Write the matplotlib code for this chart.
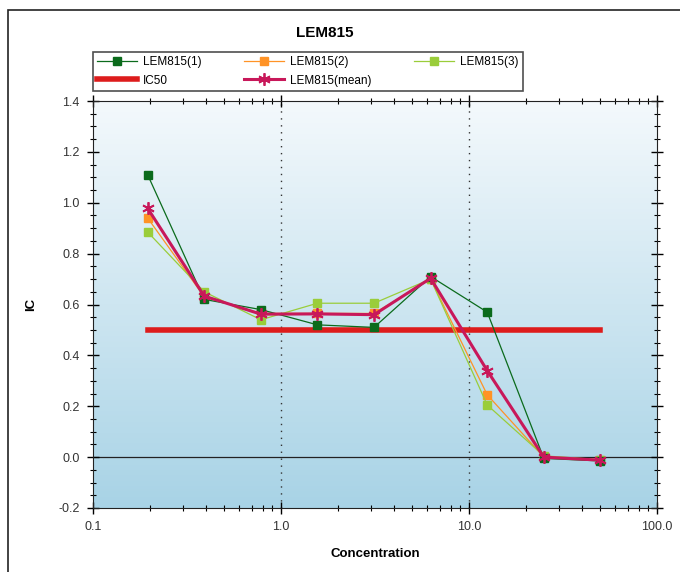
import matplotlib
matplotlib.use("Agg")
import matplotlib.pyplot as plt
import matplotlib.ticker as ticker
from matplotlib import patches
from matplotlib.colors import LinearSegmentedColormap
import numpy as np

plt.rcParams['font.family'] = ['Liberation Sans', 'DejaVu Sans']

conc = [0.1953, 0.3906, 0.7813, 1.5625, 3.125, 6.25, 12.5, 25.0, 50.0]
rep1 = [1.11, 0.62, 0.58, 0.52, 0.51, 0.71, 0.57, -0.005, -0.015]
rep2 = [0.94, 0.63, 0.565, 0.565, 0.565, 0.70, 0.245, 0.0, -0.01]
rep3 = [0.885, 0.65, 0.54, 0.605, 0.605, 0.70, 0.205, 0.005, -0.01]
mean = [0.978, 0.633, 0.562, 0.563, 0.56, 0.703, 0.34, 0.0, -0.012]
ic50_x = [0.1953, 50.0]
ic50_y = [0.5, 0.5]

fig = plt.figure(figsize=(6.8, 5.72), dpi=100)
# outer frame of the chart control
fig.add_artist(patches.Rectangle((8/680, -0.01), 1.0, 1 - 10/572 + 0.01, transform=fig.transFigure,
                                 fill=False, edgecolor='#222222', lw=1.2))
ax = fig.add_axes([93/680, 1 - 508/572, (657 - 93)/680, (508 - 101)/572])

# background gradient
cmap = LinearSegmentedColormap.from_list('bg', ['#f4f9fc', '#a8d3e6'])
grad = np.linspace(0, 1, 256).reshape(-1, 1)
ax.imshow(grad, cmap=cmap, extent=[0, 1, 0, 1], transform=ax.transAxes,
          aspect='auto', zorder=0, origin='upper')

ax.set_xscale('log')
ax.set_xlim(0.1, 100)
ax.set_ylim(-0.2, 1.4)

ax.axhline(0, color='#222222', lw=0.9, zorder=1)
for xv in [1, 10]:
    ax.axvline(xv, color='#333333', lw=1, ls=(0, (1, 4)), zorder=1)

l1, = ax.plot(conc, rep1, color='#0b6b1c', lw=0.9, marker='s', ms=6, zorder=4, label='LEM815(1)')
l2, = ax.plot(conc, rep2, color='#ff9326', lw=0.9, marker='s', ms=6, zorder=3, label='LEM815(2)')
l3, = ax.plot(conc, rep3, color='#9acd3a', lw=0.9, marker='s', ms=6, zorder=3, label='LEM815(3)')
lic, = ax.plot(ic50_x, ic50_y, color='#dd1c1c', lw=4, zorder=2, label='IC50')
lm, = ax.plot(conc, mean, color='#c8185a', lw=2.2, marker=(6, 2, 0), ms=9, mew=1.3,
              zorder=5, label='LEM815(mean)')

ax.yaxis.set_major_locator(ticker.MultipleLocator(0.2))
ax.yaxis.set_minor_locator(ticker.MultipleLocator(0.05))
ax.yaxis.set_major_formatter(ticker.FormatStrFormatter('%.1f'))
ax.xaxis.set_major_formatter(ticker.FuncFormatter(lambda v, p: f'{v:.1f}'))
ax.xaxis.set_minor_formatter(ticker.NullFormatter())
ax.tick_params(which='major', direction='inout', length=9, width=1, top=True, right=True,
               labelsize=9, labelcolor='#333333', pad=5)
ax.tick_params(which='minor', direction='inout', length=5, width=0.8, top=True, right=True)
for s in ax.spines.values():
    s.set_color('#222222')

ax.set_xlabel('Concentration', fontsize=9.5, fontweight='bold', labelpad=11)
ax.set_ylabel('IC', fontsize=9.5, fontweight='bold', labelpad=15)
fig.text(325/680, 1 - 33/572, 'LEM815', ha='center', va='center', fontsize=11, fontweight='bold')

leg = fig.legend([l1, lic, l2, lm, l3],
                 ['LEM815(1)', 'IC50', 'LEM815(2)', 'LEM815(mean)', 'LEM815(3)'],
                 ncol=3, loc='upper left', bbox_to_anchor=(93/680, 1 - 52/572),
                 fontsize=8.5, frameon=True, fancybox=False, handlelength=3.4,
                 columnspacing=3.6, labelspacing=0.55, borderpad=0.35, handletextpad=0.5,
                 borderaxespad=0)
leg.get_frame().set_edgecolor('#222222')
leg.get_frame().set_linewidth(1.2)

fig.savefig('out.png', dpi=100)
